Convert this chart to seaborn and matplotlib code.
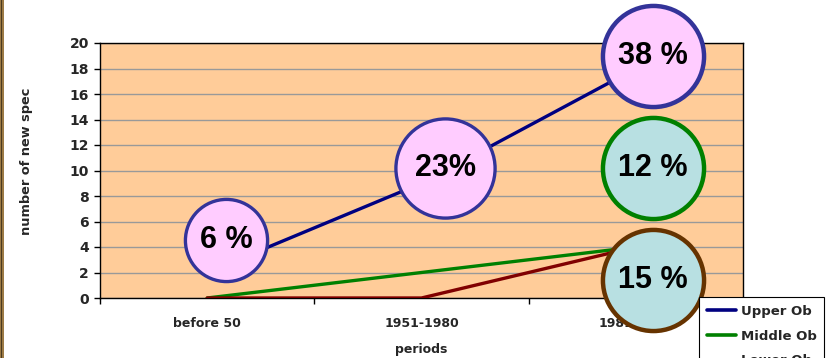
import matplotlib
matplotlib.use("Agg")
import matplotlib.pyplot as plt
import seaborn as sns
import pandas as pd
from matplotlib.patches import Rectangle

# Data
periods = ["before 50", "1951-1980", "1981-2000"]
upper_ob = [2, 9, 18]
middle_ob = [0, 2, 4]
lower_ob = [0, 0, 4]
series_names = ["Upper Ob", "Middle Ob", "Lower Ob"]
series_colors = ["#000080", "#008000", "#800000"]

# Percentage callouts: text, x (period index), y (value), size, fill, edge
callout_text = ["6 %", "23%", "38 %", "12 %", "15 %"]
callout_x = [0.09, 1.11, 2.08, 2.08, 2.08]
callout_y = [4.55, 10.2, 19.0, 10.2, 1.4]
callout_size = [3500, 5100, 5300, 5300, 5300]
callout_fill = ["#FFCCFF", "#FFCCFF", "#FFCCFF", "#B8E0E2", "#B8E0E2"]
callout_edge = ["#333399", "#333399", "#333399", "#008000", "#663300"]
callout_lw = [2.4, 2.4, 3.2, 3.2, 3.2]

rows = []
for name, vals in zip(series_names, [upper_ob, middle_ob, lower_ob]):
    for i, v in enumerate(vals):
        rows.append({"period": i, "value": v, "series": name})
df = pd.DataFrame(rows)

sns.set_style("white")
plt.rcParams["font.family"] = ["DejaVu Sans"]
plt.rcParams["font.weight"] = "bold"

fig = plt.figure(figsize=(8.34, 3.58), dpi=100)
ax = fig.add_axes([100 / 834, 60 / 358, 643 / 834, 255 / 358])
ax.set_facecolor("#FFCC99")

sns.lineplot(data=df, x="period", y="value", hue="series",
             palette=dict(zip(series_names, series_colors)),
             linewidth=2.4, ax=ax, zorder=3, legend=True)

ax.set_xlim(-0.5, 2.5)
ax.set_ylim(0, 20)
ax.set_yticks(range(0, 21, 2))
ax.yaxis.grid(True, color="#999999", linewidth=1.0)
ax.set_axisbelow(True)

for s in ax.spines.values():
    s.set_color("black")
    s.set_linewidth(1.0)

ax.set_xticks(range(len(periods)))
ax.set_xticklabels(periods, fontsize=9, fontweight="bold")
ax.set_xticks([-0.5, 0.5, 1.5, 2.5], minor=True)
ax.tick_params(axis="x", which="major", length=0, pad=14)
ax.tick_params(axis="x", which="minor", length=4, width=1, color="black",
               direction="out", bottom=True)
ax.tick_params(axis="y", length=4, width=1, color="black", direction="out",
               left=True, pad=4, labelsize=10)
for lbl in ax.get_yticklabels():
    lbl.set_fontweight("bold")

ax.set_xlabel("periods", fontsize=9, fontweight="bold")
ax.xaxis.set_label_coords(0.5, -0.175)
ax.set_ylabel("number of new spec", fontsize=9.3, fontweight="bold")
ax.yaxis.set_label_coords(-0.104, 0.535)

# Percentage callouts
for t, x, y, s, fc, ec, lw in zip(callout_text, callout_x, callout_y,
                                  callout_size, callout_fill, callout_edge,
                                  callout_lw):
    ax.scatter([x], [y], s=s, facecolor=fc, edgecolor=ec, linewidth=lw,
               zorder=5, clip_on=False)
    ax.text(x, y, t, ha="center", va="center", fontsize=22,
            fontweight="bold", color="black", zorder=6,
            family=["Liberation Sans", "DejaVu Sans"])

# Legend
handles, labels = ax.get_legend_handles_labels()
leg = fig.legend(handles, labels, loc="upper left",
                 bbox_to_anchor=(699 / 834, 1 - 297 / 358),
                 bbox_transform=fig.transFigure, frameon=True, fancybox=False,
                 edgecolor="black", framealpha=1, fontsize=9.5,
                 handlelength=2.2, handletextpad=0.35, labelspacing=0.88,
                 borderpad=0.6, borderaxespad=0)
leg.get_frame().set_linewidth(0.8)
for line in leg.get_lines():
    line.set_linewidth(2.6)
for txt in leg.get_texts():
    txt.set_fontweight("bold")
if ax.get_legend():
    ax.get_legend().remove()

# Decorative strip on the left edge
fig.patches.append(Rectangle((0, 0), 4 / 834, 1, transform=fig.transFigure,
                             facecolor="#9C7A45", edgecolor="none"))
fig.patches.append(Rectangle((1 / 834, 0), 1 / 834, 1, transform=fig.transFigure,
                             facecolor="#4A3A20", edgecolor="none"))

fig.savefig("out.png", dpi=100)
